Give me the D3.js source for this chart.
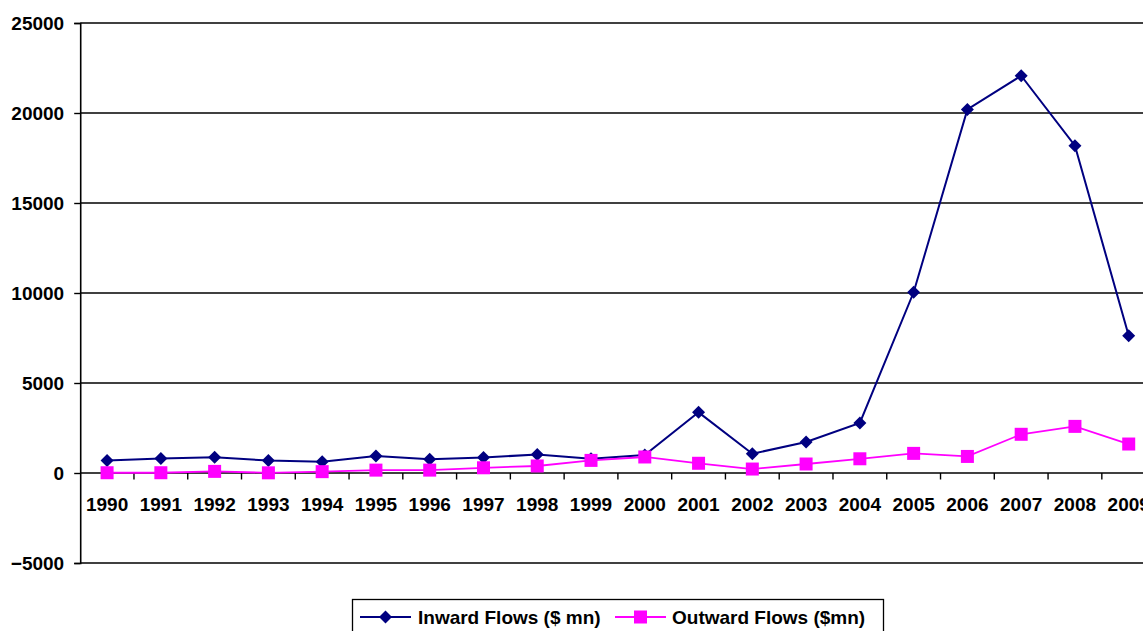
<!DOCTYPE html>
<html>
<head>
<meta charset="utf-8">
<script src="https://cdn.jsdelivr.net/npm/d3@7"></script>
<style>
  html, body { margin: 0; padding: 0; background: #fff; overflow: hidden; }
  svg { display: block; font-family: "Liberation Sans", Arial, sans-serif; font-weight: bold; }
</style>
</head>
<body>
<svg id="chart" width="1143" height="631"></svg>
<script>
// FDI flows by year, $ million
const years = ["1990","1991","1992","1993","1994","1995","1996","1997","1998","1999",
               "2000","2001","2002","2003","2004","2005","2006","2007","2008","2009"];
const inward  = [700, 810, 870, 690, 630, 940, 760, 860, 1030, 790,
                 1000, 3370, 1070, 1720, 2780, 10040, 20200, 22070, 18180, 7630];
const outward = [15, 15, 90, 10, 75, 160, 160, 290, 390, 700,
                 890, 540, 220, 500, 790, 1090, 920, 2150, 2590, 1610];
const yTicks = [-5000, 0, 5000, 10000, 15000, 20000, 25000];
const seriesNames = ["Inward Flows ($ mn)", "Outward Flows ($mn)"];

const svg = d3.select("#chart");
const W = 1143, H = 631;
const plot = { left: 80.2, right: 1155.6, top: 23, bottom: 563 };

const x = d3.scaleBand().domain(years).range([plot.left, plot.right]).padding(0);
const y = d3.scaleLinear().domain([-5000, 25000]).range([plot.bottom, plot.top]);
const cx = d => x(d) + x.bandwidth() / 2;

const g = svg.append("g");

// horizontal gridlines (also form top and bottom frame)
g.append("g").selectAll("line").data(yTicks).join("line")
  .attr("x1", plot.left).attr("x2", W + 20)
  .attr("y1", d => y(d)).attr("y2", d => y(d))
  .attr("stroke", "#000").attr("stroke-width", 1.4);

// y axis
const yAxis = d3.axisLeft(y).tickValues(yTicks).tickSize(6).tickPadding(10).tickFormat(d3.format("d"));
const ya = g.append("g").attr("transform", `translate(${plot.left},0)`).call(yAxis);
ya.select(".domain").attr("stroke", "#000").attr("stroke-width", 1.6);
ya.selectAll(".tick line").attr("stroke", "#000").attr("stroke-width", 1.4);
ya.selectAll("text").attr("font-size", 19).attr("font-weight", "bold")
  .attr("fill", "#000").attr("font-family", "Liberation Sans, Arial, sans-serif");

// x axis at zero: labels centred in categories, ticks on category boundaries
const xAxis = d3.axisBottom(x).tickSize(0).tickPadding(0);
const xa = g.append("g").attr("transform", `translate(0,${y(0)})`).call(xAxis);
xa.select(".domain").remove();
xa.selectAll(".tick text").attr("y", 0).attr("dy", 37.5)
  .attr("font-size", 19).attr("font-weight", "bold")
  .attr("fill", "#000").attr("font-family", "Liberation Sans, Arial, sans-serif");
g.append("g").selectAll("line").data(years.slice(1)).join("line")
  .attr("x1", d => x(d)).attr("x2", d => x(d))
  .attr("y1", y(0)).attr("y2", y(0) + 6.5)
  .attr("stroke", "#000").attr("stroke-width", 1.4);

const diamond = s => `M0,${-s}L${s},0L0,${s}L${-s},0Z`;
const square = s => `M${-s},${-s}H${s}V${s}H${-s}Z`;

const series = [
  { values: inward,  color: "#000080", width: 2,   shape: diamond(6.5) },
  { values: outward, color: "#FF00FF", width: 1.8, shape: square(6.5) }
];

const line = d3.line().x((d, i) => cx(years[i])).y(d => y(d));

series.forEach(s => {
  const sg = g.append("g");
  sg.append("path").datum(s.values).attr("d", line)
    .attr("fill", "none").attr("stroke", s.color).attr("stroke-width", s.width);
  sg.selectAll("path.m").data(s.values).join("path").attr("class", "m")
    .attr("transform", (d, i) => `translate(${cx(years[i])},${y(d)})`)
    .attr("d", s.shape).attr("fill", s.color);
});

// legend
const lg = svg.append("g");
lg.append("rect").attr("x", 352.5).attr("y", 599.5).attr("width", 531).attr("height", 50)
  .attr("fill", "#fff").attr("stroke", "#000").attr("stroke-width", 1.3);
const legendItems = [
  { name: seriesNames[0], s: series[0], x0: 360, x1: 411, tx: 418 },
  { name: seriesNames[1], s: series[1], x0: 615, x1: 666, tx: 672 }
];
legendItems.forEach(it => {
  const ly = 617;
  lg.append("line").attr("x1", it.x0).attr("x2", it.x1).attr("y1", ly).attr("y2", ly)
    .attr("stroke", it.s.color).attr("stroke-width", it.s.width);
  lg.append("path").attr("transform", `translate(${(it.x0 + it.x1) / 2},${ly})`)
    .attr("d", it.s.shape).attr("fill", it.s.color);
  lg.append("text").attr("x", it.tx).attr("y", ly + 7).attr("font-size", 19)
    .attr("fill", "#000").text(it.name);
});
</script>
</body>
</html>
